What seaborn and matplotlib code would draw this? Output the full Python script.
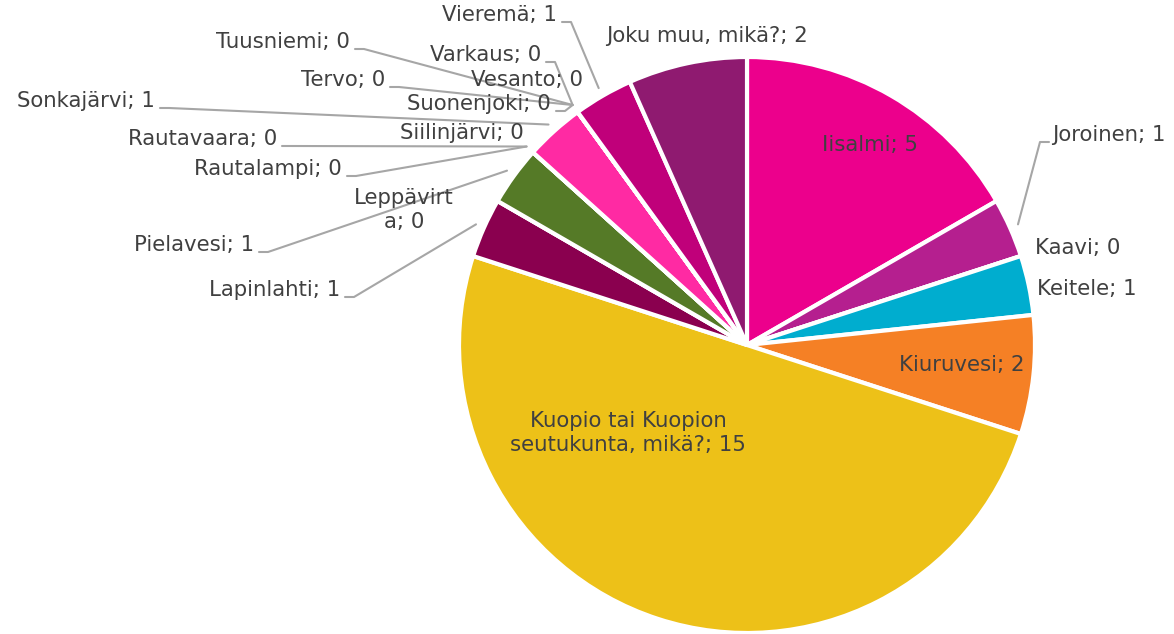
import numpy as np
import matplotlib
matplotlib.use("Agg")
import matplotlib.pyplot as plt
import seaborn as sns

# data
kunnat = ["Iisalmi", "Joroinen", "Kaavi", "Keitele", "Kiuruvesi",
          "Kuopio tai Kuopion\nseutukunta, mikä?", "Lapinlahti", "Leppävirt\na",
          "Pielavesi", "Rautalampi", "Rautavaara", "Siilinjärvi", "Sonkajärvi",
          "Suonenjoki", "Tervo", "Tuusniemi", "Varkaus", "Vesanto", "Vieremä",
          "Joku muu, mikä?"]
vastaukset = [5, 1, 0, 1, 2, 15, 1, 0, 1, 0, 0, 0, 1, 0, 0, 0, 0, 0, 1, 2]
colors = ["#EC008C", "#B51F8F", "#7FB33A", "#00ADCF", "#F58025",
          "#EDC118", "#8A004F", "#999999", "#557A27", "#6AA84F",
          "#2E75B6", "#C00000", "#FF2AA3", "#70AD47", "#4472C4",
          "#ED7D31", "#A5A5A5", "#FFC000", "#C0007A", "#8F1A70"]

sns.set_theme(style="white")
plt.rcParams['font.family'] = ['DejaVu Sans']

W, H = 1174, 634
cx, cy, R = 747, 345, 288

def px(x, y):
    return (x - cx) / R, (cy - y) / R

fig = plt.figure(figsize=(W / 100, H / 100), dpi=100)
ax = fig.add_axes([0, 0, 1, 1])

wedges, _ = ax.pie(vastaukset, colors=colors, startangle=90, counterclock=False,
                   radius=1, wedgeprops=dict(edgecolor="white", linewidth=3))
# pie resets the limits, so set them afterwards
ax.set_xlim(-cx / R, (W - cx) / R)
ax.set_ylim(-(H - cy) / R, cy / R)
ax.set_aspect("equal")
ax.axis("off")

txt = "#404040"
fs = 15.3

# label layout: (x, y, ha, leader) in pixel coords
layout = {
    "Iisalmi": (870, 145, "center", False),
    "Joroinen": (1052, 135, "left", True),
    "Kaavi": (1035, 248, "left", False),
    "Keitele": (1037, 289, "left", False),
    "Kiuruvesi": (962, 365, "center", False),
    "Kuopio tai Kuopion\nseutukunta, mikä?": (628, 433, "center", False),
    "Lapinlahti": (340, 290, "right", True),
    "Leppävirt\na": (404, 210, "center", False),
    "Pielavesi": (254, 245, "right", True),
    "Rautalampi": (342, 169, "right", True),
    "Rautavaara": (277, 139, "right", True),
    "Siilinjärvi": (524, 133, "right", False),
    "Sonkajärvi": (155, 101, "right", True),
    "Suonenjoki": (551, 104, "right", True),
    "Tervo": (385, 80, "right", True),
    "Tuusniemi": (350, 42, "right", True),
    "Varkaus": (541, 55, "right", True),
    "Vesanto": (583, 80, "right", False),
    "Vieremä": (557, 15, "right", True),
    "Joku muu, mikä?": (707, 36, "center", False),
}

total = sum(vastaukset)
start = 90.0
for name, val in zip(kunnat, vastaukset):
    span = 360.0 * val / total
    mid = np.deg2rad(start - span / 2)
    start -= span
    x, y, ha, leader = layout[name]
    tx, ty = px(x, y)
    ax.text(tx, ty, f"{name}; {val}", ha=ha, va="center", fontsize=fs,
            color=txt, linespacing=1.2)
    if leader:
        ex, ey = 1.03 * np.cos(mid), 1.03 * np.sin(mid)
        if ha == "right":
            x0 = x + 5
            x1 = x0 + 9
        else:
            x0 = x - 3
            x1 = x0 - 9
        ax.plot([px(x0, y + 7)[0], px(x1, y + 7)[0], ex],
                [px(x0, y + 7)[1], px(x1, y + 7)[1], ey],
                color="#A6A6A6", lw=1.5, zorder=0)

fig.savefig("out.png", dpi=100)
